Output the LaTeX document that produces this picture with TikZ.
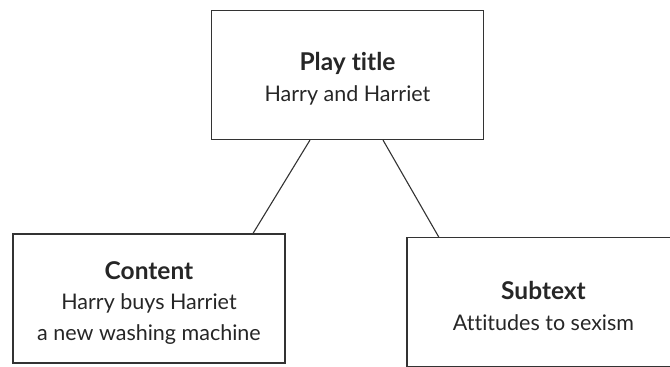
\documentclass[tikz,border=0pt]{standalone}
\usepackage{fontspec}
\setmainfont[Ligatures=CommonOff]{Lato}
\usetikzlibrary{positioning}
\tikzset{
    panel/.style={draw=black!80, line width=1.1pt, minimum width=272pt, minimum height=129pt, align=center, inner sep=0pt, font=\fontsize{21.5}{30.5}\selectfont, text=black!85},
    link/.style={draw=black!80, line width=1.1pt}
}
\newcommand{\heading}[1]{{\fontsize{24.5}{30.5}\selectfont\bfseries\rule{0pt}{26pt}#1}}

\begin{document}
\begin{tikzpicture}[x=1pt, y=-1pt]
    \useasboundingbox (0,0) rectangle (670,367);
    \node [panel] (title) at (347.5,75) {\heading{Play title}\\Harry and Harriet};
    \node [panel] (content) at (149,298.5) {\heading{Content}\\Harry buys Harriet\\a new washing machine};
    % right side runs off the page
    \node [panel, draw=none, minimum height=128pt] (subtext) at (543.5,302) {\heading{Subtext}\\Attitudes to sexism};
    \draw [link] (subtext.north east) -- (subtext.north west) -- (subtext.south west) -- (subtext.south east);
    \draw [link] ([xshift=-37.5pt]title.south) -- ([xshift=104pt]content.north);
    \draw [link] ([xshift=35.5pt]title.south) -- ([xshift=-104.5pt]subtext.north);
\end{tikzpicture}
\end{document}
